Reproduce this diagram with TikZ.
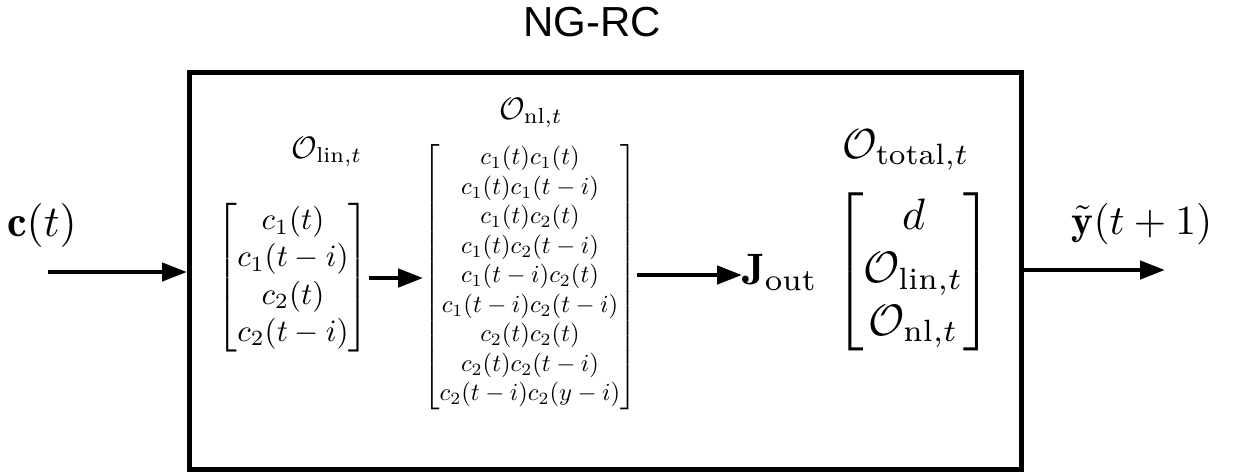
\documentclass[tikz,border=0pt]{standalone}
\usepackage{amsmath}
\usepackage{graphicx}
\usepackage{fontspec}
\newfontfamily\titlefont{Liberation Sans}
\usetikzlibrary{arrows.meta}
% set a formula at a given scale of the 10pt size
\newcommand\zm[2]{\scalebox{#1}{$#2$}}
\begin{document}
\begin{tikzpicture}[x=1pt,y=-1pt,
  >={Triangle[length=25pt,width=18pt]},
  conn/.style={line width=4.5pt,->},
  mat/.style={inner sep=0pt}]
\useasboundingbox (0,0) rectangle (1233,472);

% title and outer block
\node[font=\titlefont\fontsize{42}{50}\selectfont,inner sep=0pt] (title) at (592,22) {NG-RC};
\node[draw,line width=5pt,minimum width=831.5pt,minimum height=397pt,inner sep=0pt] (box) at (605.25,271) {};

% input
\node (cin) at (42,225) {\zm{4.4}{\mathbf{c}(t)}};
\coordinate (src) at (48,272);
\draw[conn] (src) -- (box.west |- src);

% linear features
\node (linlab) at (327,152) {\zm{3.1}{\mathcal{O}_{\mathrm{lin},t}}};
\node[mat] (lin) at (293,278) {\zm{3.1}{\begin{bmatrix} c_1(t)\\ c_1(t-i)\\ c_2(t)\\ c_2(t-i)\end{bmatrix}}};

% nonlinear features
\node (nllab) at (531,113) {\zm{3.1}{\mathcal{O}_{\mathrm{nl},t}}};
\node[mat] (nl) at (530,277) {\zm{2.46}{\begin{bmatrix}
 c_1(t)c_1(t)\\ c_1(t)c_1(t-i)\\ c_1(t)c_2(t)\\ c_1(t)c_2(t-i)\\
 c_1(t-i)c_2(t)\\ c_1(t-i)c_2(t-i)\\ c_2(t)c_2(t)\\ c_2(t)c_2(t-i)\\
 c_2(t-i)c_2(y-i)\end{bmatrix}}};
\draw[conn] (lin.east) -- (nl.west |- lin.east);

% readout
\node[anchor=base west,inner sep=0pt] (jout) at (742,284) {\zm{4.4}{\mathbf{J}_{\mathrm{out}}}};
\coordinate (nlout) at (nl.east |- 0,275);
\draw[conn] (nlout) -- (jout.west |- nlout);

% total feature vector
\node (totlab) at (906,150) {\zm{4.2}{\mathcal{O}_{\mathrm{total},t}}};
\node[mat] (tot) at (913.5,272) {\zm{4.4}{\begin{bmatrix} d\\ \mathcal{O}_{\mathrm{lin},t}\\ \mathcal{O}_{\mathrm{nl},t}\end{bmatrix}}};

% output
\coordinate (dst) at (1165,270);
\draw[conn] (box.east |- dst) -- (dst);
\node (yout) at (1142,224) {\zm{4.15}{\tilde{\mathbf{y}}(t+1)}};
\end{tikzpicture}
\end{document}
